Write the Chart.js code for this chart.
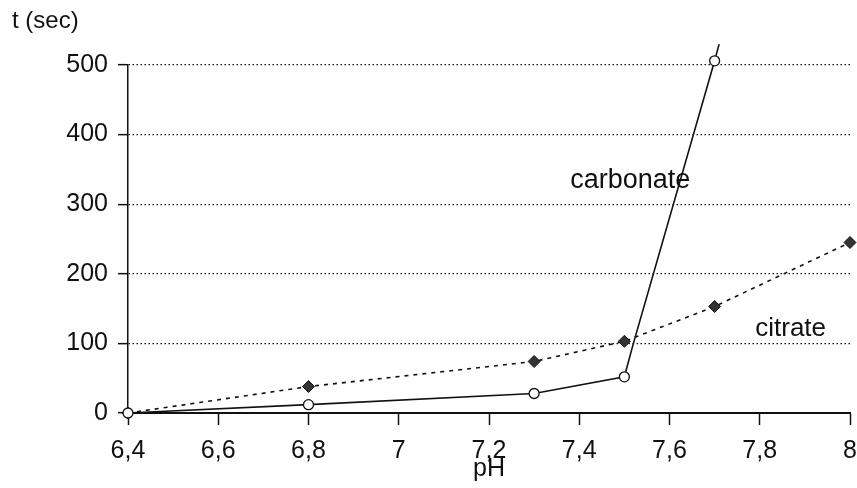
<!DOCTYPE html>
<html lang="en">
<head>
    <meta charset="UTF-8">
    <title>t (sec) vs pH</title>
    <script src="https://cdn.jsdelivr.net/npm/chart.js"></script>
    <style>
        html, body { margin: 0; padding: 0; background: #fff; }
        #chartContainer { width: 857px; height: 488px; }
    </style>
</head>
<body>
    <div id="chartContainer">
        <canvas id="phChart"></canvas>
    </div>
    <script>
        // values
        const carbonatePH = [6.4, 6.8, 7.3, 7.5, 7.52, 7.7, 7.71];
        const carbonateT  = [0, 12, 28, 52, 100, 506, 530];
        const carbonateMarks = [1, 1, 1, 1, 0, 1, 0]; // 1 = measured point

        const citratePH = [6.4, 6.8, 7.3, 7.5, 7.7, 8];
        const citrateT  = [0, 38, 74, 103, 153, 245];

        const yTicks = [0, 100, 200, 300, 400, 500];

        const font = 'Liberation Sans, Arial, sans-serif';
        const ink = '#111';

        const toXY = (xs, ys) => xs.map((x, i) => ({ x: x, y: ys[i] }));
        const fmt = v => String(Math.round(v * 10) / 10).replace('.', ',');

        // free text on the plot: axis caption and series names
        const notes = {
            id: 'notes',
            afterDraw(chart) {
                const c = chart.ctx;
                const xs = chart.scales.x, ys = chart.scales.y;
                c.save();
                c.fillStyle = ink;
                c.font = '24px ' + font;
                c.textBaseline = 'top';
                c.fillText('t (sec)', 12, 9);
                c.font = '27px ' + font;
                c.textBaseline = 'alphabetic';
                c.fillText('carbonate', xs.getPixelForValue(7.38), ys.getPixelForValue(323));
                c.font = '26px ' + font;
                c.fillText('citrate', xs.getPixelForValue(7.79), ys.getPixelForValue(110));
                c.restore();
            }
        };

        new Chart(document.getElementById('phChart'), {
            type: 'line',
            data: {
                datasets: [{
                    label: 'carbonate',
                    data: toXY(carbonatePH, carbonateT),
                    borderColor: ink,
                    borderWidth: 1.6,
                    pointStyle: 'circle',
                    pointRadius: carbonateMarks.map(m => m ? 5 : 0),
                    pointBackgroundColor: '#fff',
                    pointBorderColor: ink,
                    pointBorderWidth: 1.3,
                    tension: 0,
                    clip: false
                }, {
                    label: 'citrate',
                    data: toXY(citratePH, citrateT),
                    borderColor: ink,
                    borderWidth: 1.6,
                    borderDash: [4, 5],
                    pointStyle: 'rectRot',
                    pointRadius: 6,
                    pointBackgroundColor: '#333',
                    pointBorderColor: ink,
                    pointBorderWidth: 1,
                    tension: 0,
                    clip: false
                }]
            },
            options: {
                responsive: true,
                maintainAspectRatio: false,
                animation: false,
                layout: { padding: { top: 65, right: 2, left: 0, bottom: 0 } },
                plugins: {
                    legend: { display: false },
                    tooltip: { enabled: false }
                },
                scales: {
                    x: {
                        type: 'linear',
                        min: 6.4,
                        max: 8,
                        afterFit: s => { s.height = 75; s.paddingRight = 0; s.paddingLeft = 0; },
                        ticks: {
                            stepSize: 0.2,
                            padding: 11,
                            color: ink,
                            font: { family: font, size: 25 },
                            callback: v => fmt(v),
                            maxRotation: 0
                        },
                        grid: {
                            drawOnChartArea: false,
                            tickLength: 12,
                            tickColor: ink,
                            tickWidth: 1.5
                        },
                        border: { color: ink, width: 2 },
                        title: {
                            display: true,
                            text: 'pH',
                            color: ink,
                            font: { family: font, size: 25 },
                            padding: { top: 0, bottom: 4 }
                        }
                    },
                    y: {
                        min: 0,
                        max: 500,
                        afterFit: s => { s.width = 128; },
                        afterBuildTicks: s => { s.ticks = yTicks.map(v => ({ value: v })); },
                        ticks: {
                            padding: 10,
                            color: ink,
                            font: { family: font, size: 25 }
                        },
                        grid: {
                            color: c => c.tick && c.tick.value === 0 ? 'rgba(0,0,0,0)' : ink,
                            lineWidth: 1.3,
                            tickLength: 10,
                            tickColor: ink,
                            tickWidth: 1.5,
                            tickBorderDash: []
                        },
                        border: { color: ink, width: 1.5, dash: [1.5, 2.5] }
                    }
                }
            },
            plugins: [notes]
        });
    </script>
</body>
</html>
